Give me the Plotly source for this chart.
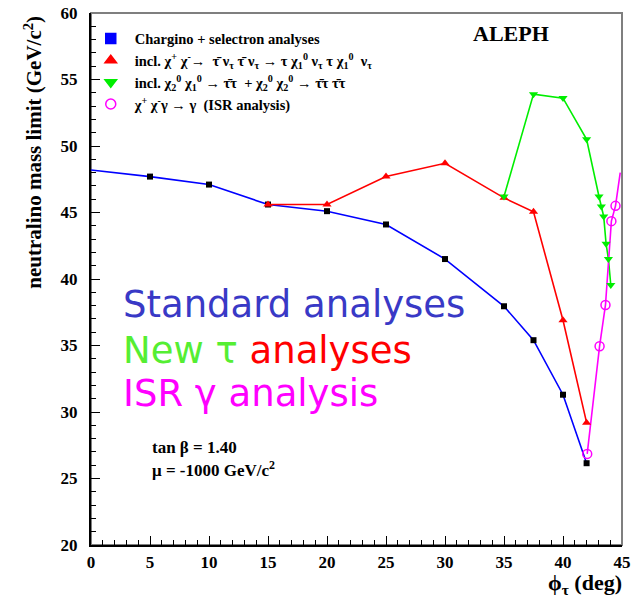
import plotly.graph_objects as go

# Neutralino mass limit versus phi_tau (deg)
phi_std = [0, 5, 10, 15, 20, 25, 30, 35, 37.5, 40, 42]
m_std = [48.2, 47.7, 47.1, 45.6, 45.1, 44.1, 41.5, 37.95, 35.4, 31.3, 26.15]

phi_chi = [15, 20, 25, 30, 35, 37.5, 40, 42]
m_chi = [45.6, 45.6, 47.7, 48.7, 46.1, 45.05, 36.9, 29.2]

phi_neu = [35, 37.5, 40, 42, 43.05, 43.25, 43.45, 43.65, 43.85, 44.05]
m_neu = [46.2, 53.9, 53.6, 50.5, 46.2, 45.45, 44.7, 42.65, 41.5, 39.55]

phi_isr = [42.05, 43.1, 43.6, 44.1, 44.45, 44.85]
m_isr = [26.85, 34.95, 38.05, 44.35, 45.5, 48.0]

SERIF = "Liberation Serif"
SANS = "DejaVu Sans"

fig = go.Figure()

# curves
fig.add_trace(go.Scatter(x=phi_std, y=m_std, mode="lines",
                         line=dict(color="#0000ff", width=1.6), showlegend=False))
fig.add_trace(go.Scatter(x=phi_chi, y=m_chi, mode="lines",
                         line=dict(color="#ff0000", width=1.6), showlegend=False))
fig.add_trace(go.Scatter(x=phi_neu, y=m_neu, mode="lines",
                         line=dict(color="#00ee00", width=1.6), showlegend=False))
fig.add_trace(go.Scatter(x=phi_isr, y=m_isr, mode="lines",
                         line=dict(color="#ff00ff", width=1.6), showlegend=False))

# markers (the end points lying on the frame carry no marker)
fig.add_trace(go.Scatter(x=phi_std[1:], y=m_std[1:], mode="markers",
                         marker=dict(symbol="square", size=6, color="black"),
                         showlegend=False))
fig.add_trace(go.Scatter(x=phi_chi, y=m_chi, mode="markers",
                         marker=dict(symbol="triangle-up", size=8, color="#ff0000"),
                         showlegend=False))
fig.add_trace(go.Scatter(x=phi_neu, y=m_neu, mode="markers",
                         marker=dict(symbol="triangle-down", size=8, color="#00ee00"),
                         showlegend=False))
fig.add_trace(go.Scatter(x=phi_isr[:-1], y=m_isr[:-1], mode="markers",
                         marker=dict(symbol="circle-open", size=9, color="#ff00ff",
                                     line=dict(width=1.5)),
                         showlegend=False))

# legend entries
legend_items = [
    ("square", "#0000ff", "<b>Chargino + selectron analyses</b>"),
    ("triangle-up", "#ff0000",
     "<b>incl. χ<sup>+</sup> χ<sup>-</sup>→  τ̄ ν<sub>τ</sub> τ̄ ν<sub>τ</sub> → "
     "τ χ<sub>1</sub><sup>0</sup> ν<sub>τ</sub> τ χ<sub>1</sub><sup>0</sup>  ν<sub>τ</sub></b>"),
    ("triangle-down", "#00ee00",
     "<b>incl. χ<sub>2</sub><sup>0</sup> χ<sub>1</sub><sup>0</sup> → τ̄τ  + "
     "χ<sub>2</sub><sup>0</sup> χ<sub>2</sub><sup>0</sup> → τ̄τ τ̄τ</b>"),
    ("circle-open", "#ff00ff", "<b>χ<sup>+</sup> χ<sup>-</sup>γ → γ  (ISR analysis)</b>"),
]
for sym, col, name in legend_items:
    fig.add_trace(go.Scatter(x=[None], y=[None], mode="markers", name=name,
                             marker=dict(symbol=sym, size=10, color=col,
                                         line=dict(width=1.5, color=col))))

axis_common = dict(
    showgrid=False, zeroline=False, showline=True, linecolor="black", linewidth=2,
    ticks="inside", ticklen=9, tickwidth=1, tickcolor="black", automargin=False,
    tickfont=dict(family=SERIF, size=17, color="black", weight="bold"),
)
fig.update_xaxes(range=[0, 45], tickvals=list(range(0, 46, 5)),
                 minor=dict(dtick=1, ticks="inside", ticklen=5, tickcolor="black"),
                 ticklabelstandoff=1, **axis_common)
fig.update_yaxes(range=[20, 60], tickvals=list(range(20, 61, 5)),
                 minor=dict(dtick=1, ticks="inside", ticklen=5, tickcolor="black"),
                 ticklabelstandoff=8, **axis_common)

# grey frame around the plotting area
fig.add_shape(type="rect", xref="paper", yref="paper", x0=0, x1=1, y0=0, y1=1,
              line=dict(color="#7f7f7f", width=2), layer="below")

ann = []
ann.append(dict(text="<b>neutralino mass limit (GeV/c<sup>2</sup>)</b>", textangle=-90,
                x=-0.109, y=0.998, xanchor="center", yanchor="top",
                font=dict(family=SERIF, size=21, color="black")))
ann.append(dict(text="<b>ϕ<sub>τ</sub> (deg)</b>", x=1.004, y=-0.073,
                xanchor="right", yanchor="middle",
                font=dict(family=SERIF, size=22, color="black")))
ann.append(dict(text="<b>ALEPH</b>", x=0.791, y=0.962, xanchor="center", yanchor="middle",
                font=dict(family=SERIF, size=22, color="black")))
ann.append(dict(text="<b>tan β = 1.40</b>", x=0.112, y=0.184, xanchor="left",
                yanchor="middle", font=dict(family=SERIF, size=17, color="black")))
ann.append(dict(text="<b>μ = -1000 GeV/c<sup>2</sup></b>", x=0.112, y=0.143,
                xanchor="left", yanchor="middle",
                font=dict(family=SERIF, size=17, color="black")))
ann.append(dict(text="Standard analyses", x=0.056, y=0.452, xanchor="left",
                yanchor="middle", font=dict(family=SANS, size=37, color="#3939c6")))
ann.append(dict(text="<span style='color:#55ee33'>New τ</span> analyses",
                x=0.056, y=0.366, xanchor="left", yanchor="middle",
                font=dict(family=SANS, size=37, color="#ff0000")))
ann.append(dict(text="ISR γ analysis", x=0.056, y=0.284, xanchor="left",
                yanchor="middle", font=dict(family=SANS, size=37, color="#ff00ff")))
for a in ann:
    a.update(xref="paper", yref="paper", showarrow=False)

fig.update_layout(
    width=640, height=600,
    margin=dict(l=91, r=18, t=13, b=55),
    plot_bgcolor="white", paper_bgcolor="white",
    annotations=ann,
    legend=dict(x=-0.008, y=0.982, xanchor="left", yanchor="top",
                bgcolor="rgba(0,0,0,0)", font=dict(family=SERIF, size=14.5, color="black"),
                tracegroupgap=0, itemwidth=38),
)

fig.write_html("out.html")
